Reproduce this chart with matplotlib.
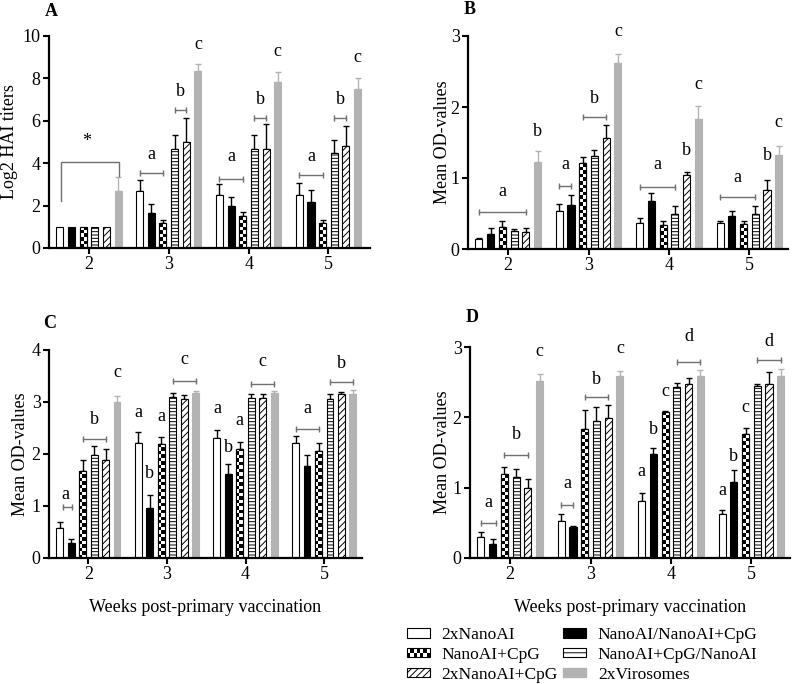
import numpy as np
import matplotlib
matplotlib.use('Agg')
import matplotlib.pyplot as plt
from matplotlib.patches import Patch, Rectangle
from matplotlib.legend_handler import HandlerBase

# ---- data -------------------------------------------------------------
weeks = np.array([2, 3, 4, 5])
groups = ['2xNanoAI', 'NanoAI/NanoAI+CpG', 'NanoAI+CpG',
          'NanoAI+CpG/NanoAI', '2xNanoAI+CpG', '2xVirosomes']

# rows = weeks 2..5, columns = groups (same order as above)
hai_mean = [[1.0, 1.0, 1.0, 1.0, 1.0, 2.67],
            [2.67, 1.67, 1.17, 4.67, 5.0, 8.33],
            [2.5, 2.0, 1.5, 4.67, 4.67, 7.83],
            [2.5, 2.17, 1.17, 4.5, 4.83, 7.5]]
hai_err = [[0, 0, 0, 0, 0, 0.67],
           [0.55, 0.40, 0.17, 0.67, 1.15, 0.33],
           [0.5, 0.42, 0.22, 0.67, 1.17, 0.47],
           [0.55, 0.58, 0.17, 0.6, 0.92, 0.5]]

odb_mean = [[0.14, 0.21, 0.31, 0.25, 0.24, 1.23],
            [0.54, 0.62, 1.21, 1.31, 1.56, 2.62],
            [0.37, 0.68, 0.34, 0.49, 1.04, 1.83],
            [0.36, 0.47, 0.35, 0.50, 0.83, 1.33]]
odb_err = [[0.02, 0.08, 0.09, 0.03, 0.05, 0.15],
           [0.09, 0.14, 0.08, 0.09, 0.18, 0.12],
           [0.06, 0.11, 0.05, 0.11, 0.05, 0.18],
           [0.04, 0.06, 0.05, 0.11, 0.14, 0.12]]

odc_mean = [[0.57, 0.28, 1.67, 1.98, 1.88, 3.0],
            [2.22, 0.97, 2.19, 3.09, 3.06, 3.17],
            [2.31, 1.61, 2.10, 3.07, 3.07, 3.17],
            [2.22, 1.77, 2.05, 3.06, 3.15, 3.16]]
odc_err = [[0.13, 0.09, 0.21, 0.17, 0.21, 0.11],
           [0.20, 0.25, 0.13, 0.08, 0.08, 0.05],
           [0.16, 0.19, 0.14, 0.08, 0.08, 0.04],
           [0.12, 0.21, 0.17, 0.09, 0.05, 0.07]]

odd_mean = [[0.30, 0.20, 1.19, 1.15, 0.99, 2.51],
            [0.53, 0.44, 1.84, 1.95, 1.99, 2.59],
            [0.81, 1.48, 2.08, 2.43, 2.47, 2.59],
            [0.63, 1.08, 1.76, 2.45, 2.47, 2.59]]
odd_err = [[0.07, 0.07, 0.10, 0.11, 0.13, 0.10],
           [0.10, 0.02, 0.27, 0.19, 0.19, 0.07],
           [0.12, 0.09, 0.01, 0.06, 0.09, 0.09],
           [0.05, 0.17, 0.09, 0.03, 0.17, 0.10]]

# significance letters: (week, bar index, y, text)
hai_letters = [(2, 2.3, 4.83, '*'),
               (3, 1, 4.2, 'a'), (3, 3.5, 7.16, 'b'), (3, 5, 9.37, 'c'),
               (4, 1, 4.12, 'a'), (4, 3.5, 6.77, 'b'), (4, 5, 9.06, 'c'),
               (5, 1, 4.12, 'a'), (5, 3.5, 6.77, 'b'), (5, 5, 8.79, 'c')]
hai_brackets = [(3, 0, 2, 3.56), (3, 3, 4, 6.5),
                (4, 0, 2, 3.26), (4, 3, 4, 6.11),
                (5, 0, 2, 3.45), (5, 3, 4, 6.11)]

odb_letters = [(2, 2, 0.74, 'a'), (2, 5, 1.59, 'b'),
               (3, 0.5, 1.12, 'a'), (3, 3, 2.06, 'b'), (3, 5, 3.0, 'c'),
               (4, 1.5, 1.13, 'a'), (4, 4, 1.33, 'b'), (4, 5, 2.25, 'c'),
               (5, 1.5, 0.95, 'a'), (5, 4, 1.25, 'b'), (5, 5, 1.72, 'c')]
odb_brackets = [(2, 0, 4, 0.52), (3, 0, 1, 0.89), (3, 2, 4, 1.86),
                (4, 0, 3, 0.88), (5, 0, 3, 0.73)]

odc_letters = [(2, 0.5, 1.13, 'a'), (2, 3, 2.57, 'b'), (2, 5, 3.49, 'c'),
               (3, 0, 2.72, 'a'), (3, 1, 1.53, 'b'), (3, 2, 2.64, 'a'), (3, 4, 3.73, 'c'),
               (4, 0, 2.78, 'a'), (4, 1, 2.03, 'b'), (4, 2, 2.56, 'a'), (4, 4, 3.70, 'c'),
               (5, 1, 2.78, 'a'), (5, 4, 3.66, 'b')]
odc_brackets = [(2, 0.3, 1.1, 0.99), (2, 2, 4, 2.28), (3, 3, 5, 3.40),
                (4, 3, 5, 3.35), (5, 0, 2, 2.49), (5, 3, 5, 3.39)]

odd_letters = [(2, 0.6, 0.72, 'a'), (2, 3, 1.69, 'b'), (2, 5, 2.87, 'c'),
               (3, 0.5, 1.0, 'a'), (3, 3, 2.48, 'b'), (3, 5, 2.92, 'c'),
               (4, 0, 1.16, 'a'), (4, 1, 1.76, 'b'), (4, 2, 2.31, 'c'), (4, 4, 3.08, 'd'),
               (5, 0, 0.90, 'a'), (5, 1, 1.38, 'b'), (5, 2, 2.07, 'c'), (5, 4, 3.01, 'd')]
odd_brackets = [(2, 0, 1.3, 0.50), (2, 2, 4, 1.47), (3, 0, 1, 0.76),
                (3, 2, 4, 2.29), (4, 3, 5, 2.78), (5, 3, 5, 2.81)]

# ---- style --------------------------------------------------------------
plt.rcParams['font.family'] = ['Liberation Serif', 'DejaVu Serif']
plt.rcParams['hatch.linewidth'] = 0.7
FS = 13
GRAY = '#b3b3b3'
LINE = '#707070'
step, width = 0.146, 0.088

bar_styles = [dict(facecolor='white', edgecolor='black'),
              dict(facecolor='black', edgecolor='black'),
              dict(facecolor='white', edgecolor='black'),   # checker overlay
              dict(facecolor='white', edgecolor='black', hatch='-----'),
              dict(facecolor='white', edgecolor='black', hatch='/////'),
              dict(facecolor=GRAY, edgecolor=GRAY)]


class HandlerChecker(HandlerBase):
    def create_artists(self, legend, orig_handle, xdescent, ydescent,
                       width, height, fontsize, trans):
        nx, ny = 7, 2
        cw, ch = width / nx, height / ny
        arts = []
        for i in range(nx):
            for j in range(ny):
                if (i + j) % 2 == 0:
                    arts.append(Rectangle((-xdescent + i * cw, -ydescent + j * ch), cw, ch,
                                          facecolor='black', edgecolor='none', transform=trans))
        arts.append(Rectangle((-xdescent, -ydescent), width, height, facecolor='none',
                              edgecolor='black', lw=0.8, transform=trans))
        return arts


def add_checker(ax, rect):
    x0, y0 = rect.get_x(), rect.get_y()
    w, h = rect.get_width(), rect.get_height()
    p0 = ax.transData.transform((x0, y0))
    p1 = ax.transData.transform((x0 + w, y0 + h))
    cell = (p1[0] - p0[0]) / 2.0
    ny = max(1, int(round((p1[1] - p0[1]) / cell)))
    arr = np.add.outer(np.arange(ny), np.arange(2)) % 2
    im = ax.imshow(arr, cmap='gray', extent=(x0, x0 + w, y0, y0 + h), aspect='auto',
                   interpolation='nearest', zorder=2.1, origin='lower')
    im.set_clip_path(rect)


def panel(ax, mean, err, ylim, yticks, letters, brackets, ylabel, ylab_x):
    mean = np.array(mean)
    err = np.array(err)
    ax.set_xlim(1.5, 5.48)
    ax.set_ylim(*ylim)
    checker_rects = []
    for i in range(6):
        x = weeks + (i - 2.5) * step
        bars = ax.bar(x, mean[:, i], width, linewidth=0.8, zorder=2, **bar_styles[i])
        if i == 2:
            checker_rects = list(bars)
        keep = err[:, i] > 0
        ax.errorbar(x[keep], mean[keep, i], yerr=[np.zeros(keep.sum()), err[keep, i]],
                    fmt='none', ecolor=GRAY if i == 5 else 'black', elinewidth=1,
                    capsize=2.2, capthick=1, zorder=1.5)
    for r in checker_rects:
        add_checker(ax, r)
    # outline on top of checker
    ax.bar(weeks + (2 - 2.5) * step, mean[:, 2], width, fill=False,
           edgecolor='black', linewidth=0.8, zorder=2.2)

    for wk, idx, y, t in letters:
        ax.text(wk + (idx - 2.5) * step, y, t, ha='center', va='baseline', fontsize=FS)
    for wk, i0, i1, y in brackets:
        xs = [wk + (i0 - 2.5) * step, wk + (i1 - 2.5) * step]
        ax.plot(xs, [y, y], color=LINE, lw=1, zorder=3)
        ax.plot(xs, [y, y], ls='none', marker='|', ms=5, mew=1, color=LINE, zorder=3)

    ax.set_xlim(1.5, 5.48)
    ax.set_ylim(*ylim)
    ax.set_xticks(weeks)
    ax.set_yticks(yticks)
    for s in ['top', 'right']:
        ax.spines[s].set_visible(False)
    for s in ['left', 'bottom']:
        ax.spines[s].set_linewidth(1.6)
    ax.tick_params(direction='out', length=4, width=1.5, labelsize=FS, pad=2)
    ax.set_ylabel(ylabel, fontsize=FS)
    ax.yaxis.set_label_coords(ylab_x, 0.5)


fig = plt.figure(figsize=(7.94, 6.84), dpi=100)
axA = fig.add_axes([49 / 794, 1 - 248 / 684, 321 / 794, 212 / 684])
axB = fig.add_axes([468 / 794, 1 - 249 / 684, 320 / 794, 213 / 684])
axC = fig.add_axes([49 / 794, 1 - 558 / 684, 313 / 794, 208 / 684])
axD = fig.add_axes([470 / 794, 1 - 558 / 684, 320 / 794, 211 / 684])

panel(axA, hai_mean, hai_err, (0, 10), [0, 2, 4, 6, 8, 10], hai_letters, hai_brackets,
      'Log2 HAI titers', -0.097)
axA.set_xlim(1.5, 5.52)
# bracket for the week-2 comparison
x0, x1 = 2 + (0.1 - 2.5) * step, 2 + (5.1 - 2.5) * step
axA.plot([x0, x0, x1, x1], [2.2, 4.07, 4.07, 3.4], color=LINE, lw=1, zorder=3)

panel(axB, odb_mean, odb_err, (0, 3), [0, 1, 2, 3], odb_letters, odb_brackets,
      'Mean OD-values', -0.053)
panel(axC, odc_mean, odc_err, (0, 4), [0, 1, 2, 3, 4], odc_letters, odc_brackets,
      'Mean OD-values', -0.064)
panel(axD, odd_mean, odd_err, (0, 3), [0, 1, 2, 3], odd_letters, odd_brackets,
      'Mean OD-values', -0.059)

for ax in (axC, axD):
    ax.set_xlabel('Weeks post-primary vaccination', fontsize=FS)
    ax.xaxis.set_label_coords(0.5, -0.195)

for lab, px, py in [('A', 51, 11), ('B', 470, 9), ('C', 50, 323), ('D', 472, 318)]:
    fig.text(px / 794, 1 - py / 684, lab, fontsize=FS, fontweight='bold',
             ha='center', va='center')

checker = Patch(facecolor='white', edgecolor='black', label=groups[2])
handles = [Patch(label=groups[0], linewidth=0.8, **bar_styles[0]),
           checker,
           Patch(label=groups[4], linewidth=0.8, **bar_styles[4]),
           Patch(label=groups[1], linewidth=0.8, **bar_styles[1]),
           Patch(label=groups[3], linewidth=0.8, facecolor='white', edgecolor='black', hatch='---'),
           Patch(label=groups[5], **bar_styles[5])]
fig.legend(handles=handles, loc='upper left', bbox_to_anchor=(407 / 794, 1 - 627 / 684),
           ncol=2, frameon=False, fontsize=12.5, handlelength=1.32, handleheight=0.47,
           handletextpad=0.68, columnspacing=0.3, labelspacing=0.22,
           borderaxespad=0, borderpad=0, handler_map={checker: HandlerChecker()})

fig.savefig('out.png', dpi=100)
